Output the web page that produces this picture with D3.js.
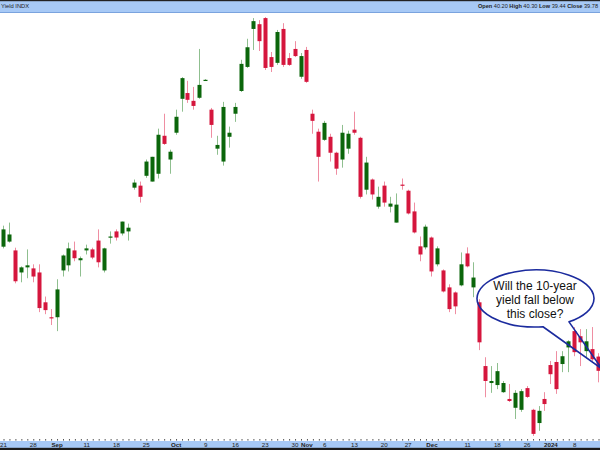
<!DOCTYPE html>
<html>
<head>
<meta charset="utf-8">
<script src="https://cdn.jsdelivr.net/npm/d3@7"></script>
<style>
  html, body { margin: 0; padding: 0; background: #fff; }
  svg { display: block; font-family: "Liberation Sans", Arial, sans-serif; }
</style>
</head>
<body>
<svg id="chart" width="600" height="450"></svg>
<script>
// ---------- data ----------
const dates = ["Aug 21","Aug 22","Aug 23","Aug 24","Aug 25","Aug 28","Aug 29","Aug 30","Aug 31","Sep 1",
"Sep 5","Sep 6","Sep 7","Sep 8","Sep 11","Sep 12","Sep 13","Sep 14","Sep 15","Sep 18","Sep 19","Sep 20","Sep 21","Sep 22",
"Sep 25","Sep 26","Sep 27","Sep 28","Sep 29","Oct 2","Oct 3","Oct 4","Oct 5","Oct 6","Oct 9","Oct 10","Oct 11","Oct 12","Oct 13",
"Oct 16","Oct 17","Oct 18","Oct 19","Oct 20","Oct 23","Oct 24","Oct 25","Oct 26","Oct 27","Oct 30","Oct 31","Nov 1","Nov 2","Nov 3",
"Nov 6","Nov 7","Nov 8","Nov 9","Nov 10","Nov 13","Nov 14","Nov 15","Nov 16","Nov 17","Nov 20","Nov 21","Nov 22","Nov 24",
"Nov 27","Nov 28","Nov 29","Nov 30","Dec 1","Dec 4","Dec 5","Dec 6","Dec 7","Dec 8","Dec 11","Dec 12","Dec 13","Dec 14","Dec 15",
"Dec 18","Dec 19","Dec 20","Dec 21","Dec 22","Dec 26","Dec 27","Dec 28","Dec 29","Jan 2","Jan 3","Jan 4","Jan 5",
"Jan 8","Jan 9","Jan 10","Jan 11","Jan 12"];

const open = [43.44,43.59,43.33,42.68,42.83,42.80,42.68,41.80,41.36,41.36,
42.74,42.89,43.33,43.04,43.33,43.36,43.62,42.74,43.71,43.89,
43.83,43.89,45.18,45.24,45.53,45.36,45.59,46.71,46.01,46.80,
47.80,47.97,47.74,47.83,48.35,47.48,46.33,45.95,46.68,47.36,
48.03,48.74,49.86,50.00,50.18,49.03,48.86,49.86,49.00,49.27,
48.45,49.24,47.36,46.83,46.59,46.68,46.21,46.01,46.33,46.89,
46.65,45.12,45.42,44.62,45.24,44.62,44.15,45.27,45.09,44.48,
43.45,43.42,43.71,42.92,42.74,42.24,42.09,42.30,43.24,42.24,
41.80,39.92,39.42,39.36,39.15,38.95,38.69,38.63,39.27,38.63,
38.24,38.95,39.95,40.04,39.98,40.47,40.95,40.80,40.36,40.42,
40.20];
const high = [44.06,44.15,43.41,42.86,43.36,42.92,42.92,41.97,41.60,42.48,
43.21,43.56,43.59,43.15,43.50,43.41,43.95,43.41,43.89,43.95,
44.18,44.12,45.42,45.36,46.01,46.09,46.92,47.36,46.30,47.48,
48.44,48.33,48.15,49.27,48.38,47.53,46.71,47.71,46.98,47.68,
48.95,49.57,50.18,50.12,50.21,49.18,49.83,50.03,49.15,49.50,
49.15,49.33,47.48,46.92,47.15,46.77,46.24,47.03,46.86,47.42,
46.68,46.09,45.45,45.21,45.36,44.91,45.01,45.45,45.12,44.74,
43.74,44.09,43.74,43.45,42.77,42.33,42.12,43.27,43.42,42.98,
41.89,40.18,39.92,40.01,39.48,39.39,39.21,39.24,39.33,38.66,
38.74,39.15,40.07,40.36,40.36,40.68,41.07,41.01,41.01,41.07,
40.30];
const low = [43.39,43.56,42.36,42.39,42.51,42.39,41.51,41.45,41.13,40.95,
42.56,42.71,43.01,42.56,43.21,43.07,42.83,42.68,43.53,43.62,
43.77,43.62,45.12,44.74,45.47,45.36,45.45,46.44,45.59,46.74,
47.42,47.68,47.48,47.80,48.33,46.65,46.15,45.83,46.36,47.12,
48.00,48.71,49.24,49.21,48.65,48.59,48.80,48.74,48.77,49.03,
48.39,48.27,46.77,45.36,46.56,45.95,45.56,45.77,46.18,46.74,
44.86,44.98,44.83,44.56,44.62,44.45,44.15,45.12,44.39,43.83,
43.01,43.36,42.56,42.86,42.09,41.51,41.45,42.27,42.83,41.95,
40.39,39.00,39.13,39.24,39.13,38.86,38.36,38.57,38.98,37.86,
38.01,38.60,39.39,39.10,39.74,39.74,40.21,39.92,40.18,40.07,
39.44];
const close = [43.95,43.80,42.42,42.83,42.89,42.56,41.63,41.57,41.33,42.18,
43.18,43.39,43.10,43.10,43.39,43.12,42.98,43.39,43.74,43.71,
44.18,44.00,45.33,44.91,45.95,46.09,46.74,46.47,46.24,47.27,
48.41,47.77,47.59,48.21,48.36,47.03,46.44,47.56,46.80,47.56,
48.83,49.32,50.09,49.50,48.71,48.74,49.77,48.80,48.80,49.06,
49.06,48.30,47.15,46.09,47.09,46.21,45.74,46.80,46.77,46.80,
44.91,45.92,44.98,44.91,44.74,44.71,44.68,45.24,44.42,43.86,
43.21,44.03,42.71,43.39,42.12,41.60,41.68,42.92,42.86,42.53,
40.62,39.48,39.48,39.77,39.42,38.89,39.13,39.18,39.01,37.92,
38.60,38.80,39.68,39.24,40.21,40.65,40.33,40.62,40.65,40.12,
39.78];

const tickDates = ["Aug 21","Aug 28","Sep 1","Sep 11","Sep 18","Sep 25","Oct 2","Oct 9","Oct 16","Oct 23","Oct 30",
"Nov 1","Nov 6","Nov 13","Nov 20","Nov 27","Dec 1","Dec 11","Dec 18","Dec 26","Jan 2","Jan 8"];
const tickTexts = ["21","28","Sep","11","18","25","Oct","9","16","23","30",
"Nov","6","13","20","27","Dec","11","18","26","2024","8"];
const boldTicks = ["Sep","Oct","Nov","Dec","2024"];

const titleText = "Yield INDX";
const quoteLabels = ["Open","High","Low","Close"];
const quoteValues = ["40.20","40.30","39.44","39.78"];
const calloutLines = ["Will the 10-year","yield fall below","this close?"];

// ---------- drawing ----------
const W = 600, H = 450;
const svg = d3.select("#chart");

const x = d3.scalePoint().domain(dates).range([3, 598]);
const y = d3.scaleLinear().domain([37.74, 50.33]).range([440, 13]);

const candles = dates.map((d, i) => ({date: d, o: open[i], h: high[i], l: low[i], c: close[i]}));

const RED = "#d5163d", GREEN = "#0b660b";
const RED_W = "#ef8ea2", GREEN_W = "#8fbf8f";

// callout fill (drawn under candles)
const cx = 535.5, cy = 298.5, rx = 58.5, ry = 28.5;
const lb = [543, cy + ry * Math.sqrt(1 - Math.pow((543 - cx) / rx, 2))];
const rb = [569, cy + ry * Math.sqrt(1 - Math.pow((569 - cx) / rx, 2))];
const tip = [602, 369];
const calloutPath = `M${lb[0]},${lb[1]} A${rx},${ry} 0 1 1 ${rb[0]},${rb[1]} L${tip[0]},${tip[1]} Z`;
svg.append("path").attr("d", calloutPath).attr("fill", "#fff").attr("stroke", "none");

// candles
const g = svg.append("g");
g.selectAll("line.wick").data(candles).join("line")
  .attr("class", "wick")
  .attr("x1", d => Math.round(x(d.date)) + 0.5)
  .attr("x2", d => Math.round(x(d.date)) + 0.5)
  .attr("y1", d => y(d.h))
  .attr("y2", d => y(d.l))
  .attr("stroke", d => d.c >= d.o ? GREEN_W : RED_W)
  .attr("stroke-width", 1);

g.selectAll("rect.body").data(candles).join("rect")
  .attr("class", "body")
  .attr("x", d => Math.round(x(d.date)) - 1.5)
  .attr("width", 4)
  .attr("y", d => y(Math.max(d.o, d.c)))
  .attr("height", d => Math.max(1.2, Math.abs(y(d.o) - y(d.c))))
  .attr("fill", d => d.c >= d.o ? GREEN : RED);

// callout outline + text
svg.append("path").attr("d", calloutPath).attr("fill", "none")
  .attr("stroke", "#1b2b9e").attr("stroke-width", 1.6).attr("stroke-linejoin", "round");
svg.append("g").selectAll("text").data(calloutLines).join("text")
  .attr("x", 535).attr("y", (d, i) => 290 + i * 14)
  .attr("text-anchor", "middle")
  .attr("font-size", 12).attr("fill", "#111")
  .text(d => d);

// header bar
svg.append("rect").attr("x", 0).attr("y", 0).attr("width", W).attr("height", 12.5).attr("fill", "#a7c9f6");
svg.append("rect").attr("x", 0).attr("y", 0).attr("width", W).attr("height", 1.2).attr("fill", "#222");
svg.append("line").attr("x1", 0).attr("x2", W).attr("y1", 12.5).attr("y2", 12.5).attr("stroke", "#7aa3de").attr("stroke-width", 1);
svg.append("text").attr("x", 1).attr("y", 8).attr("font-size", 5.8).attr("fill", "#222").text(titleText);
const q = svg.append("text").attr("x", 598).attr("y", 8).attr("text-anchor", "end")
  .attr("font-size", 5.6).attr("fill", "#222");
quoteLabels.forEach((lab, i) => {
  q.append("tspan").attr("font-weight", "bold").text((i ? " " : "") + lab + " ");
  q.append("tspan").text(quoteValues[i]);
});

// bottom axis bar
svg.append("rect").attr("x", 0).attr("y", 441).attr("width", W).attr("height", 7).attr("fill", "#a7c9f6");
svg.append("rect").attr("x", 0).attr("y", 447.8).attr("width", W).attr("height", 2.2).attr("fill", "#1a1a1a");

// minor day ticks
const minor = svg.append("g").attr("transform", "translate(0,439)")
  .call(d3.axisBottom(x).tickValues(dates).tickSize(1.6).tickFormat(""));
minor.select(".domain").remove();
minor.selectAll(".tick line").attr("stroke", "#555").attr("transform", "translate(0.5,0)");

// labelled ticks
const ax = svg.append("g").attr("transform", "translate(0,441)")
  .call(d3.axisBottom(x).tickValues(tickDates).tickSize(0).tickPadding(0)
    .tickFormat(d => tickTexts[tickDates.indexOf(d)]));
ax.select(".domain").remove();
ax.selectAll(".tick text")
  .attr("y", 5.8).attr("dy", 0)
  .attr("font-size", 6.2)
  .attr("font-family", "Liberation Sans, Arial, sans-serif")
  .attr("fill", "#222")
  .attr("font-weight", d => boldTicks.includes(tickTexts[tickDates.indexOf(d)]) ? "bold" : "normal");
</script>
</body>
</html>
